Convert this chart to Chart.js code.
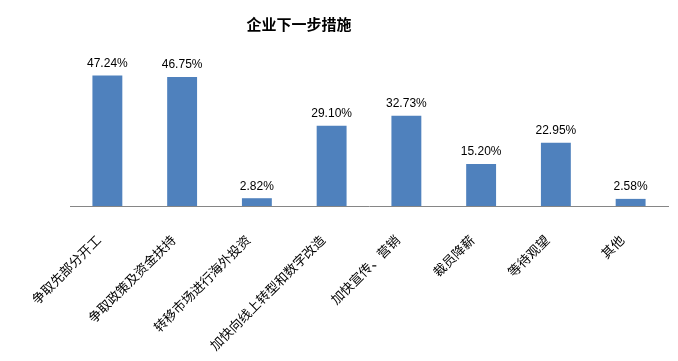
<!DOCTYPE html>
<html><head><meta charset="utf-8">
<script src="https://cdn.jsdelivr.net/npm/chart.js@4"></script>
<style>html,body{margin:0;padding:0;background:#fff}#w{width:678px;height:361px}</style>
</head><body><div id="w"><canvas id="c"></canvas></div>
<script>
const categories = ["争取先部分开工","争取政策及资金扶持","转移市场进行海外投资","加快向线上转型和数字改造","加快宣传、营销","裁员降薪","等待观望","其他"];
const values = [47.24, 46.75, 2.82, 29.10, 32.73, 15.20, 22.95, 2.58];
const valueLabels = ["47.24%","46.75%","2.82%","29.10%","32.73%","15.20%","22.95%","2.58%"];
const titleText = "企业下一步措施";

const labelPlugin = {
  id: 'vlabels',
  afterDatasetsDraw(chart) {
    const ctx = chart.ctx;
    const meta = chart.getDatasetMeta(0);
    ctx.save();
    ctx.font = '12px "Liberation Sans", Arial, sans-serif';
    ctx.fillStyle = '#000';
    ctx.textAlign = 'center';
    ctx.textBaseline = 'bottom';
    meta.data.forEach((bar, i) => {
      ctx.fillText(valueLabels[i], bar.x, bar.y - 6);
    });
    ctx.restore();
  }
};

const titlePlugin = {
  id: 'ctitle',
  afterDraw(chart) {
    const ctx = chart.ctx;
    ctx.save();
    ctx.font = 'bold 15px "Noto Sans CJK SC", sans-serif';
    ctx.fillStyle = '#000';
    ctx.textAlign = 'center';
    ctx.textBaseline = 'middle';
    ctx.fillText(titleText, 299, 24);
    ctx.restore();
  }
};

new Chart(document.getElementById('c'), {
  type: 'bar',
  data: {
    labels: categories,
    datasets: [{
      data: values,
      backgroundColor: '#4F81BD',
      barPercentage: 0.8,
      categoryPercentage: 0.5
    }]
  },
  plugins: [labelPlugin, titlePlugin],
  options: {
    responsive: true,
    maintainAspectRatio: false,
    animation: false,
    devicePixelRatio: 1,
    layout: { padding: { left: 70, right: 10, top: 68, bottom: 0 } },
    plugins: {
      legend: { display: false },
      tooltip: { enabled: false },
      title: { display: false }
    },
    scales: {
      x: {
        grid: { display: false, drawTicks: false },
        border: { display: true, color: '#868686', width: 1 },
        ticks: {
          color: '#000',
          maxRotation: 45,
          minRotation: 45,
          autoSkip: false,
          padding: 26,
          labelOffset: -9,
          font: { family: '"Noto Sans CJK SC", sans-serif', size: 13 }
        },
        afterFit(scale) { scale.height = 155; }
      },
      y: {
        display: false,
        min: 0,
        max: 50
      }
    }
  }
});
</script>
</body></html>
